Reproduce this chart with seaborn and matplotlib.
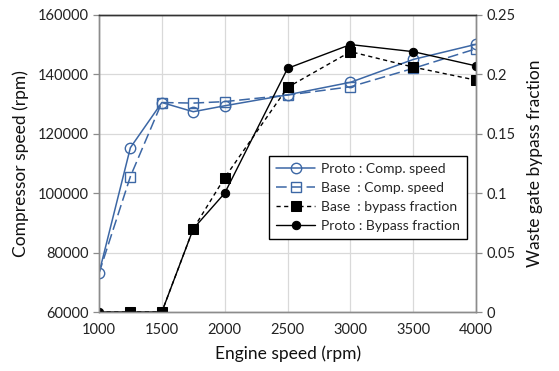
import matplotlib
matplotlib.use("Agg")
import matplotlib.pyplot as plt
import seaborn as sns
import numpy as np

engine_speed = [1000, 1250, 1500, 1750, 2000, 2500, 3000, 3500, 4000]
proto_comp = [73000, 115300, 130500, 127400, 129400, 133100, 137300, 145000, 150100]
base_comp = [73000, 105600, 130500, 130300, 130800, 133000, 135800, 142000, 148600]
base_bypass = [0, 0, 0, 0.070, 0.113, 0.189, 0.219, 0.206, 0.195]
proto_bypass = [0, 0, 0, 0.070, 0.100, 0.205, 0.225, 0.219, 0.207]

xticks = [1000, 1500, 2000, 2500, 3000, 3500, 4000]
yticks_left = [60000, 80000, 100000, 120000, 140000, 160000]
yticks_right = [0, 0.05, 0.1, 0.15, 0.2, 0.25]
yticklabels_right = ["0", "0.05", "0.1", "0.15", "0.2", "0.25"]

sns.set_theme(style="white")
plt.rcParams['font.family'] = ['Lato', 'DejaVu Sans']

blue = "#3C67A5"
grid_c = "#D9D9D9"
spine_c = "#8C8C8C"

fig = plt.figure(figsize=(5.59, 3.71), dpi=100)
ax = fig.add_axes([0.177, 0.159, 0.675, 0.801])
ax2 = ax.twinx()

sns.lineplot(x=engine_speed, y=proto_comp, ax=ax, color=blue, lw=1.1,
             marker='o', markersize=7.5, markerfacecolor='none',
             markeredgecolor=blue, markeredgewidth=1.0, label="Proto : Comp. speed",
             legend=False)
sns.lineplot(x=engine_speed, y=base_comp, ax=ax, color=blue, lw=1.1,
             linestyle=(0, (7, 3)), marker='s', markersize=7.5, markerfacecolor='none',
             markeredgecolor=blue, markeredgewidth=1.0, label="Base  : Comp. speed",
             markevery=list(range(1, len(engine_speed))), legend=False)
sns.lineplot(x=engine_speed, y=base_bypass, ax=ax2, color='black', lw=1.0,
             linestyle=(0, (3, 2.5)), marker='s', markersize=7, markerfacecolor='black',
             markeredgecolor='black', label="Base  : bypass fraction",
             markevery=list(range(1, len(engine_speed))), legend=False)
sns.lineplot(x=engine_speed, y=proto_bypass, ax=ax2, color='black', lw=1.0,
             marker='o', markersize=6, markerfacecolor='black',
             markeredgecolor='black', label="Proto : Bypass fraction", legend=False)

ax.set_xlim(1000, 4000)
ax.set_ylim(60000, 160000)
ax2.set_ylim(0, 0.25)
ax.set_xticks(xticks)
ax.set_yticks(yticks_left)
ax.set_yticklabels([str(v) for v in yticks_left])
ax2.set_yticks(yticks_right)
ax2.set_yticklabels(yticklabels_right)

ax.grid(True, color=grid_c, lw=0.9)
ax2.grid(False)
for a in (ax, ax2):
    for s in a.spines.values():
        s.set_color(spine_c)
        s.set_linewidth(1.0)
    a.spines['top'].set_color('#333333')
    a.tick_params(direction='out', length=4, width=0.9, color=spine_c,
                  labelsize=10.5, labelcolor='#222222')

ax.tick_params(axis='x', pad=4)
ax.set_xlabel("Engine speed (rpm)", fontsize=12.5, color='#111111', labelpad=6)
ax.set_ylabel("Compressor speed (rpm)", fontsize=12.5, color='#111111', labelpad=6)
ax2.set_ylabel("Waste gate bypass fraction", fontsize=12.5, color='#111111', labelpad=8)

h1, l1 = ax.get_legend_handles_labels()
h2, l2 = ax2.get_legend_handles_labels()
leg = ax2.legend(h1 + h2, l1 + l2, loc='upper left', bbox_to_anchor=(0.452, 0.525),
                 borderaxespad=0, fontsize=10, frameon=True, fancybox=False,
                 edgecolor='black', framealpha=1, handlelength=2.8, borderpad=0.5,
                 labelspacing=0.5, handletextpad=0.4)
leg.get_frame().set_linewidth(1.0)

fig.savefig("out.png", dpi=100)
